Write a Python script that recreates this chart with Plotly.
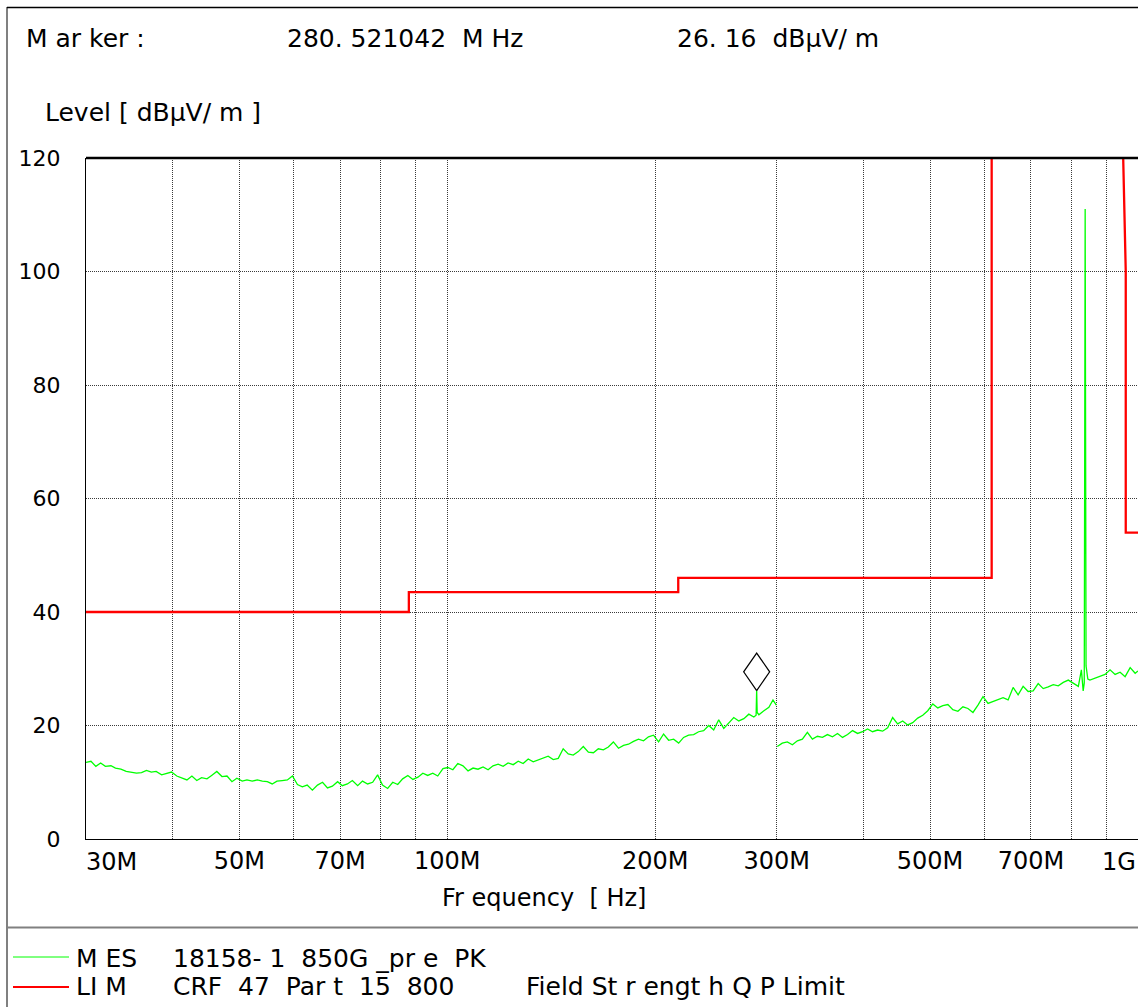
import math
import plotly.graph_objects as go

# ---------------- data ----------------
# Measurement (peak) trace, 30 MHz - 300 MHz band (MHz, dBuV/m)
mes_low_freq = [30.0, 30.5, 31.0, 31.5, 32.0, 32.6, 33.1, 33.7, 34.3, 34.9,
                35.5, 36.1, 36.7, 37.3, 37.9, 38.6, 39.2, 39.9, 40.6, 41.3,
                42.0, 42.7, 43.4, 44.1, 44.9, 45.6, 46.4, 47.2, 48.0, 48.8,
                49.6, 50.5, 51.3, 52.2, 53.1, 54.0, 54.9, 55.8, 56.7, 57.7,
                58.7, 59.7, 60.7, 61.7, 62.7, 63.8, 64.9, 66.0, 67.1, 68.2,
                69.4, 70.5, 71.7, 72.9, 74.2, 75.4, 76.7, 78.0, 79.3, 80.6,
                82.0, 83.4, 84.8, 86.2, 87.7, 89.2, 90.7, 92.2, 93.7, 95.3,
                96.9, 98.6, 100.2, 101.9, 103.6, 105.4, 107.2, 109.0, 110.8, 112.7,
                114.6, 116.5, 118.5, 120.5, 122.5, 124.6, 126.7, 128.8, 131.0, 133.2,
                135.4, 137.7, 140.0, 142.4, 144.8, 147.2, 149.7, 152.2, 154.8, 157.4,
                160.1, 162.8, 165.5, 168.3, 171.1, 174.0, 177.0, 180.0, 183.0, 186.1,
                189.2, 192.4, 195.6, 198.9, 202.3, 205.7, 209.2, 212.7, 216.3, 219.9,
                223.6, 227.4, 231.2, 235.1, 239.1, 243.1, 247.2, 251.4, 255.6, 259.9,
                264.3, 268.8, 273.3, 277.9,
                280.0, 280.52, 281.0, 282.6, 287.4, 292.2, 296.2, 299.5]
mes_low_level = [13.5, 13.7, 12.8, 13.4, 12.8, 12.9, 12.5, 12.3, 11.9, 11.8,
                 11.6, 11.7, 12.1, 11.8, 11.9, 11.3, 11.5, 11.8, 11.1, 10.8,
                 10.4, 11.1, 10.3, 10.8, 10.6, 11.2, 11.9, 11.0, 11.1, 10.1,
                 10.7, 10.2, 10.4, 10.2, 10.4, 10.2, 10.1, 9.7, 10.2, 10.3,
                 10.4, 11.1, 9.6, 9.2, 9.5, 8.6, 9.5, 10.0, 9.0, 9.3,
                 10.1, 9.4, 9.7, 10.3, 9.4, 10.2, 9.7, 10.0, 11.3, 9.5,
                 8.9, 10.0, 9.6, 10.6, 11.2, 10.5, 10.9, 11.6, 11.2, 11.6,
                 11.1, 12.4, 12.6, 12.2, 13.3, 12.9, 12.0, 12.5, 12.3, 12.7,
                 12.2, 12.9, 13.2, 12.8, 13.4, 13.1, 13.7, 13.3, 14.1, 13.6,
                 13.9, 14.3, 14.6, 14.0, 14.2, 15.9, 15.0, 14.8, 15.4, 16.3,
                 15.3, 15.2, 15.9, 15.7, 16.2, 17.1, 16.0, 16.5, 16.7, 17.2,
                 17.6, 17.3, 18.0, 18.3, 17.1, 18.5, 17.4, 17.6, 16.9, 17.9,
                 18.3, 18.4, 18.9, 19.1, 20.0, 19.2, 21.0, 19.5, 20.4, 21.4,
                 20.8, 21.2, 22.0, 21.5,
                 21.8, 26.16, 22.3, 21.9, 22.6, 23.2, 24.5, 23.6]

# Measurement (peak) trace, 300 MHz - 1 GHz band
mes_high_freq = [300.5, 305.5, 310.7, 316.0, 321.3, 326.7, 332.2, 337.8, 343.5, 349.3,
                 355.2, 361.2, 367.3, 373.5, 379.8, 386.2, 392.7, 399.3, 406.0, 412.8,
                 419.8, 426.9, 434.1, 441.4, 448.8, 456.4, 464.1, 471.9, 479.9, 488.0,
                 496.2, 504.6, 513.1, 521.8, 530.6, 539.5, 548.6, 557.9, 567.3, 576.9,
                 586.6, 596.5, 606.6, 616.8, 627.2, 637.8, 648.6, 659.5, 670.6, 681.9,
                 693.4, 705.1, 717.0, 729.1, 741.4, 753.9, 766.6, 779.5, 792.7, 806.1,
                 819.7, 828.0, 833.0, 836.0, 838.5, 841.0, 846.0, 852.0, 866.5, 881.1,
                 896.0, 911.1, 926.5, 942.1, 958.0, 974.2, 990.6, 1000.0]
mes_high_level = [16.3, 16.9, 17.1, 16.6, 17.3, 17.6, 18.8, 17.6, 18.1, 17.9,
                  18.4, 18.0, 18.6, 17.9, 18.4, 19.1, 18.6, 18.9, 19.4, 18.9,
                  19.2, 19.0, 19.6, 21.4, 20.3, 20.8, 20.1, 20.5, 21.3, 21.8,
                  22.6, 23.8, 23.1, 23.5, 23.7, 22.8, 22.5, 23.3, 23.0, 22.3,
                  23.6, 25.1, 23.9, 24.2, 24.6, 24.9, 24.5, 26.7, 25.4, 26.9,
                  26.0, 26.1, 27.4, 26.5, 26.8, 27.2, 27.0, 27.6, 28.0, 27.5,
                  26.9, 29.8, 26.1, 27.5, 111.0, 30.5, 28.2, 28.0, 28.3, 28.6,
                  29.0, 29.8, 29.0, 29.4, 28.6, 30.2, 29.2, 29.6]

# Limit line (MHz, dBuV/m)
lim_freq = [30, 88, 88, 216, 216, 614, 614, 920, 960, 960, 1000]
lim_level = [40, 40, 43.5, 43.5, 46, 46, 200, 200, 100, 54, 54]

# Marker
marker_freq = 280.521042
marker_level = 26.16

# Axis ticks
grid_freqs = [40, 50, 60, 70, 80, 90, 100, 200, 300, 400, 500, 600, 700, 800, 900]
grid_labels = ["", "50M", "", "70M", "", "", "100M", "200M", "300M", "", "500M", "", "700M", "", ""]
y_ticks = [0, 20, 40, 60, 80, 100, 120]

# ---------------- layout geometry ----------------
W, H = 1138, 1007
L, R, T, B = 86, 1138, 158, 839
FONT = "DejaVu Sans, Arial, sans-serif"
FS = 24
MHZ = 1e6


def px(x):
    return (x - L) / (R - L)


def py(y):
    return (B - y) / (B - T)


fig = go.Figure()

# limit line
fig.add_trace(go.Scatter(
    x=[f * MHZ for f in lim_freq], y=lim_level, mode="lines",
    line=dict(color="#FF0000", width=2.3), showlegend=False, hoverinfo="skip"))

# measurement trace (two bands, gap between them)
mes_x = [f * MHZ for f in mes_low_freq] + [None] + [f * MHZ for f in mes_high_freq]
mes_y = mes_low_level + [None] + mes_high_level
fig.add_trace(go.Scatter(
    x=mes_x, y=mes_y, mode="lines", connectgaps=False,
    line=dict(color="#00FF00", width=1.3), showlegend=False))

# marker diamond above the marker point
k = 10 ** (13 / ((R - L) / math.log10(1e9 / 30e6)))
hd = 6.6
mf = marker_freq * MHZ
fig.add_trace(go.Scatter(
    x=[mf, mf * k, mf, mf / k, mf],
    y=[marker_level, marker_level + hd / 2, marker_level + hd, marker_level + hd / 2, marker_level],
    mode="lines", line=dict(color="black", width=1.2), showlegend=False, hoverinfo="skip"))

fig.update_layout(
    width=W, height=H,
    margin=dict(l=L, r=W - R, t=T, b=H - B),
    paper_bgcolor="white", plot_bgcolor="white",
    font=dict(family=FONT, size=FS, color="black"),
    showlegend=False,
)

fig.update_xaxes(
    type="log", range=[math.log10(30e6), math.log10(1e9)],
    tickmode="array", tickvals=[f * MHZ for f in grid_freqs], ticktext=grid_labels,
    showgrid=True, gridcolor="#3a3a3a", gridwidth=1, griddash="1px,1px",
    showline=True, linecolor="black", linewidth=1, ticks="", zeroline=False,
    tickfont=dict(size=FS, family=FONT, color="black"), ticklabelstandoff=0,
)
fig.update_yaxes(
    range=[0, 120], tickmode="array", tickvals=y_ticks,
    ticktext=[str(v) for v in y_ticks],
    showgrid=True, gridcolor="#3a3a3a", gridwidth=1, griddash="1px,1px",
    showline=True, linecolor="black", linewidth=1, ticks="", zeroline=False,
    tickfont=dict(size=22, family=FONT, color="black"), ticklabelstandoff=20,
)

shapes = []
# thick top border of the plot
shapes.append(dict(type="line", xref="paper", yref="paper", x0=0, x1=1, y0=1, y1=1,
                   line=dict(color="black", width=2.5)))
# outer frame
shapes.append(dict(type="line", xref="paper", yref="paper", x0=px(7), x1=px(7), y0=py(7), y1=py(H + 5),
                   line=dict(color="#808080", width=2)))
shapes.append(dict(type="line", xref="paper", yref="paper", x0=px(7), x1=px(W + 5), y0=py(7.5), y1=py(7.5),
                   line=dict(color="black", width=1.5)))
shapes.append(dict(type="line", xref="paper", yref="paper", x0=px(7), x1=px(W + 5), y0=py(927.5), y1=py(927.5),
                   line=dict(color="#808080", width=2)))
# legend samples
LEG_Y1, LEG_Y2 = 957, 987
shapes.append(dict(type="line", xref="paper", yref="paper", x0=px(13), x1=px(69), y0=py(LEG_Y1), y1=py(LEG_Y1),
                   line=dict(color="#00FF00", width=1)))
shapes.append(dict(type="line", xref="paper", yref="paper", x0=px(13), x1=px(69), y0=py(LEG_Y2), y1=py(LEG_Y2),
                   line=dict(color="#FF0000", width=2)))
fig.update_layout(shapes=shapes)


def txt(s, x, y, anchor="left", size=FS):
    fig.add_annotation(text=s, x=px(x), y=py(y), xref="paper", yref="paper",
                       xanchor=anchor, yanchor="middle", showarrow=False,
                       font=dict(family=FONT, size=size, color="black"))


# header
txt("M ar ker :", 24, 39, size=25)
txt("280. 521042  M Hz", 285, 39, size=25)
txt("26. 16  dBµV/ m", 675, 39, size=25)
txt("Level [ dBµV/ m ]", 43, 113, size=25)
# edge tick labels
txt("30M", 84, 862)
txt("1G", 1138, 862, anchor="right")
# x axis title
txt("Fr equency  [ Hz]", 544, 898, anchor="center")
# legend text
txt("M ES", 74, LEG_Y1 + 1, size=25)
txt("18158- 1  850G _pr e  PK", 171, LEG_Y1 + 1, size=25)
txt("LI M", 74, LEG_Y2, size=25)
txt("CRF  47  Par t  15  800", 171, LEG_Y2, size=25)
txt("Field St r engt h Q P Limit", 524, LEG_Y2, size=25)

fig.write_html(
    "out.html",
    config={"displayModeBar": False},
    post_script="document.documentElement.style.margin='0';document.body.style.margin='0';"
                "document.body.style.overflow='hidden';",
)
